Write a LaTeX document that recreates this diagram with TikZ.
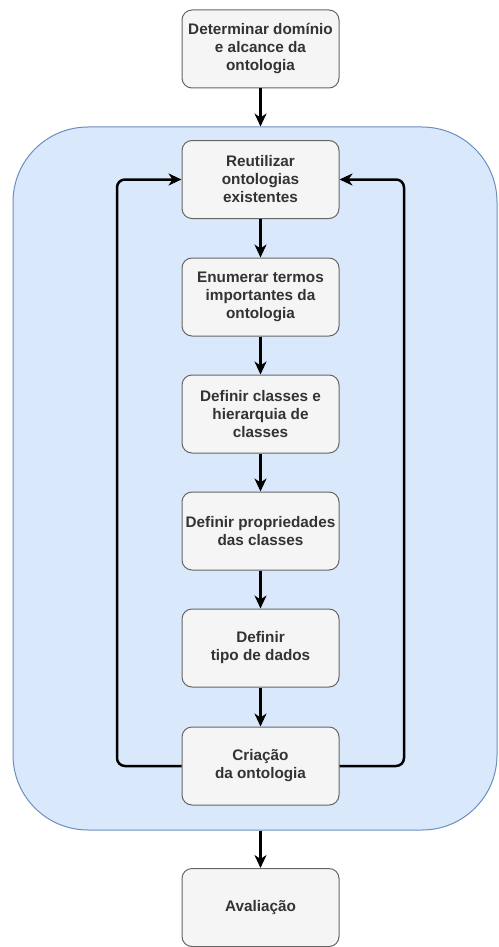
\documentclass[tikz,border=0pt]{standalone}
\usepackage{fontspec}
\setmainfont{Liberation Sans}
\usetikzlibrary{arrows.meta}
\definecolor{boxfill}{HTML}{F5F5F5}
\definecolor{boxline}{HTML}{666666}
\definecolor{boxtext}{HTML}{333333}
\definecolor{loopfill}{HTML}{DAE8FC}
\definecolor{loopline}{HTML}{6C8EBF}
\tikzset{
  stepbox/.style={draw=boxline, fill=boxfill, line width=1pt, rounded corners=10pt,
    minimum width=157pt, minimum height=78pt, inner sep=2pt, align=center,
    text=boxtext, font=\fontsize{15.3pt}{18pt}\selectfont\bfseries},
  cyclebox/.style={draw=loopline, fill=loopfill, line width=1pt, rounded corners=75pt,
    minimum width=484pt, minimum height=703pt, inner sep=0pt},
  flow/.style={draw=black, line width=2.5pt, rounded corners=8pt,
    -{Stealth[length=13pt, width=12pt, inset=4pt]}},
}
\begin{document}
\begin{tikzpicture}[x=1pt, y=-1pt]
  \useasboundingbox (0,0) rectangle (498,947);

  % iteration container
  \node[cyclebox] (ciclo) at (255,478.5) {};

  % steps
  \node[stepbox] (dominio) at (260.5,49) {Determinar domínio\\e alcance da\\ontologia};
  \node[stepbox] (reuso) at (260.5,179.5) {Reutilizar\\ontologias\\existentes};
  \node[stepbox] (termos) at (260.5,297) {Enumerar termos\\importantes da\\ontologia};
  \node[stepbox] (classes) at (260.5,414) {Definir classes e\\hierarquia de\\classes};
  \node[stepbox] (props) at (260.5,531) {Definir propriedades\\das classes};
  \node[stepbox] (tipos) at (260.5,648) {Definir\\tipo de dados};
  \node[stepbox] (criacao) at (260.5,766) {Criação\\da ontologia};
  \node[stepbox] (avaliacao) at (260.5,907.5) {Avaliação};

  % sequence
  \draw[flow] (dominio.south) -- (dominio.south |- ciclo.north);
  \draw[flow] (reuso) -- (termos);
  \draw[flow] (termos) -- (classes);
  \draw[flow] (classes) -- (props);
  \draw[flow] (props) -- (tipos);
  \draw[flow] (tipos) -- (criacao);
  \draw[flow] (criacao.south |- ciclo.south) -- (avaliacao.north);

  % feedback loops
  \coordinate (esq) at (117,0);
  \coordinate (dir) at (404,0);
  \draw[flow] (criacao.west) -- (esq |- criacao.west) -- (esq |- reuso.west) -- (reuso.west);
  \draw[flow] (criacao.east) -- (dir |- criacao.east) -- (dir |- reuso.east) -- (reuso.east);
\end{tikzpicture}
\end{document}
